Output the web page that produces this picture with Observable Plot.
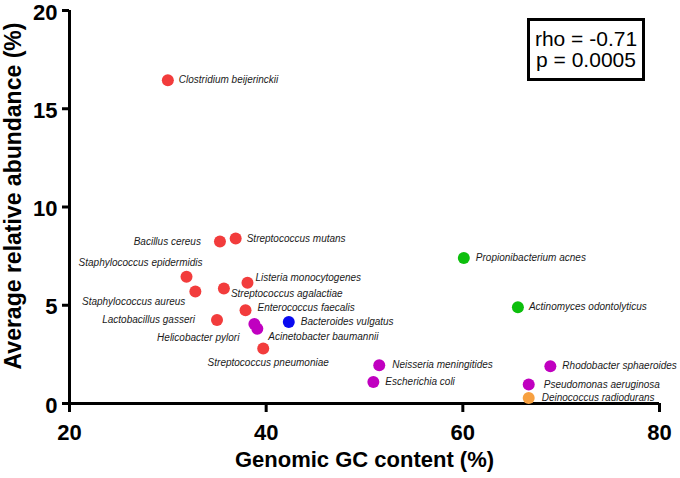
<!DOCTYPE html>
<html><head><meta charset="utf-8">
<script src="https://cdn.jsdelivr.net/npm/d3@7"></script>
<script src="https://cdn.jsdelivr.net/npm/@observablehq/plot@0.6"></script>
<style>
body{margin:0;background:#fff;font-family:"Liberation Sans",Arial,sans-serif;}
#wrap{position:relative;width:680px;height:478px;}
#stat{position:absolute;left:527px;top:18px;width:118px;height:63px;box-sizing:border-box;border:3px solid #000;padding-top:7px;font-size:21px;line-height:21px;text-align:center;background:#fff;color:#000;}
</style></head><body>
<div id="wrap"><div id="stat">rho = -0.71<br>p = 0.0005</div></div>
<script>
const species = ["Clostridium beijerinckii","Bacillus cereus","Streptococcus mutans","Staphylococcus epidermidis","Listeria monocytogenes","Streptococcus agalactiae","Staphylococcus aureus","Enterococcus faecalis","Lactobacillus gasseri","Helicobacter pylori","Acinetobacter baumannii","Bacteroides vulgatus","Streptococcus pneumoniae","Propionibacterium acnes","Actinomyces odontolyticus","Neisseria meningitides","Escherichia coli","Rhodobacter sphaeroides","Pseudomonas aeruginosa","Deinococcus radiodurans"];
const gcContent = [30.0,35.3,36.9,31.9,38.1,35.7,32.8,37.9,35.0,38.8,39.1,42.3,39.7,60.1,65.6,51.5,50.9,68.9,66.7,66.7];
const abundance = [16.45,8.25,8.4,6.45,6.15,5.85,5.7,4.75,4.25,4.05,3.8,4.15,2.8,7.4,4.9,1.95,1.1,1.9,0.97,0.28];
const phylum = ["Firmicutes","Firmicutes","Firmicutes","Firmicutes","Firmicutes","Firmicutes","Firmicutes","Firmicutes","Firmicutes","Proteobacteria","Proteobacteria","Bacteroidetes","Firmicutes","Actinobacteria","Actinobacteria","Proteobacteria","Proteobacteria","Proteobacteria","Proteobacteria","Deinococcus-Thermus"];
const phyla = ["Firmicutes","Proteobacteria","Bacteroidetes","Actinobacteria","Deinococcus-Thermus"];
const phylaColors = ["#f23c3c","#c000c0","#0a0af0","#0dbf0d","#f7a040"];
const xTicks = [20,40,60,80];
const yTicks = [0,5,10,15,20];
const xTitle = "Genomic GC content (%)";
const yTitle = "Average relative abundance (%)";

// label placement (anchor, dx, dy in px)
const labelLayout = [
  ["start",11,0],["end",-19,0],["start",11,0],["end",16,-14],["start",8,-5],
  ["start",7,5],["end",-10,10],["start",12,-2],["end",-22,0],["end",-15,14],
  ["start",11,8],["start",12,0],["middle",5,14],["start",12,0],["start",11,0],
  ["start",13,0],["start",12,0],["start",12,0],["start",15,0],["start",13,0]
];

const rows = species.map((s,i)=>({species:s, gc:gcContent[i], abundance:abundance[i], phylum:phylum[i]}));

const labelMarks = rows.map((r,i)=>Plot.text([r],{x:"gc",y:"abundance",text:"species",
  textAnchor:labelLayout[i][0], dx:labelLayout[i][1], dy:labelLayout[i][2],
  fontSize:10, fontStyle:"italic", fill:"#1a1a1a"}));

const chart = Plot.plot({
  width:680, height:478,
  marginLeft:69, marginRight:21, marginTop:10, marginBottom:75,
  x:{domain:[20,80]},
  y:{domain:[0,20]},
  color:{domain:phyla, range:phylaColors},
  style:{fontFamily:"'Liberation Sans', Arial, sans-serif", background:"white", color:"black", overflow:"visible"},
  marks:[
    Plot.axisX({ticks:xTicks, tickSize:9, tickPadding:12, strokeWidth:3, fontSize:22, fontWeight:"bold", label:null, tickFormat:d=>String(d)}),
    Plot.axisY({ticks:yTicks, tickSize:7, strokeWidth:3, label:null, tickFormat:()=>""}),
    Plot.text(yTicks,{x:xTicks[0], y:d=>d, text:d=>String(d), textAnchor:"end", dx:-12, dy:2, fontSize:22, fontWeight:"bold"}),
    Plot.ruleX([20],{y1:0, y2:20, strokeWidth:3}),
    Plot.ruleY([0],{x1:20, x2:80, strokeWidth:3}),
    Plot.dot(rows,{x:"gc", y:"abundance", fill:"phylum", r:6}),
    ...labelMarks,
    Plot.text([xTitle],{frameAnchor:"bottom", textAnchor:"middle", text:d=>d, dy:63, fontSize:22, fontWeight:"bold"}),
    Plot.text([yTitle],{frameAnchor:"left", textAnchor:"middle", text:d=>d, rotate:-90, dx:-56, dy:-11, fontSize:23, fontWeight:"bold"})
  ]
});
document.getElementById("wrap").prepend(chart);
</script>
</body></html>
